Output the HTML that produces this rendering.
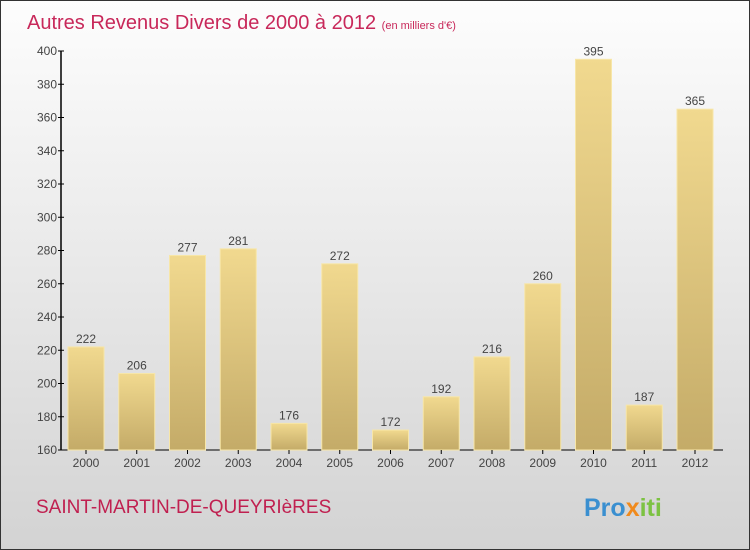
<!DOCTYPE html>
<html><head><meta charset="utf-8"><style>
body{margin:0}
#c{position:relative;width:748px;height:548px;border:1px solid #333;background:linear-gradient(#fdfdfd,#d3d3d3);font-family:"Liberation Sans",sans-serif;overflow:hidden}
</style></head><body>
<div id="c">
<svg width="748" height="548" id="s" font-family="Liberation Sans, sans-serif">
<defs><linearGradient id="g" x1="0" y1="0" x2="0" y2="1"><stop offset="0" stop-color="#f1d98f"/><stop offset="1" stop-color="#c4ab68"/></linearGradient></defs>
<text x="26" y="28" font-size="20" fill="#c8285a">Autres Revenus Divers de 2000 à 2012 <tspan font-size="11">(en milliers d'€)</tspan></text>
<text x="35" y="512" font-size="19" fill="#c02050">SAINT-MARTIN-DE-QUEYRIèRES</text>
<text x="583" y="515" font-size="25" font-weight="bold"><tspan fill="#3a8fd0">Pro</tspan><tspan fill="#f08a1c">x</tspan><tspan fill="#7cc242">iti</tspan></text>
<g id="plot"></g>
</svg>
</div>
<script>
const years=["2000","2001","2002","2003","2004","2005","2006","2007","2008","2009","2010","2011","2012"];
const values=[222,206,277,281,176,272,172,192,216,260,395,187,365];
const yTicks=[160,180,200,220,240,260,280,300,320,340,360,380,400];
const NS="http://www.w3.org/2000/svg";
const g=document.getElementById('plot');
const y=v=>449-(v-160)*(399/240);
const x=i=>85+i*50.75;
function mk(t,a){const e=document.createElementNS(NS,t);for(const k in a)e.setAttribute(k,a[k]);g.appendChild(e);return e;}
let ax=mk('line',{x1:60,y1:50,x2:60,y2:449,stroke:'#000','stroke-width':1.5});


let bx=mk('line',{x1:60,y1:449,x2:722,y2:449,stroke:'#000','stroke-width':1});


yTicks.forEach(t=>{
 const tk=mk('line',{x1:57,x2:63,y1:y(t),y2:y(t),stroke:'#000'});
 
 
 const l=mk('text',{x:56,y:y(t)+4,'font-size':12,'text-anchor':'end',fill:'#444'});
 l.textContent=t;
 
 
});
years.forEach((yr,i)=>{
 const v=values[i];
 const r=mk('rect',{x:x(i)-18,y:y(v),width:36,height:449-y(v),fill:'url(#g)',stroke:'#f7e6a8','stroke-width':1});
 
 
 const vl=mk('text',{x:x(i),y:y(v)-4,'font-size':12,'text-anchor':'middle',fill:'#444'});
 vl.textContent=v;
 
 
 const xt=mk('line',{x1:x(i),x2:x(i),y1:449,y2:453,stroke:'#000'});
 
 
 const xl=mk('text',{x:x(i),y:466,'font-size':12,'text-anchor':'middle',fill:'#444'});
 xl.textContent=yr;
 
 
});
</script>
</body></html>
